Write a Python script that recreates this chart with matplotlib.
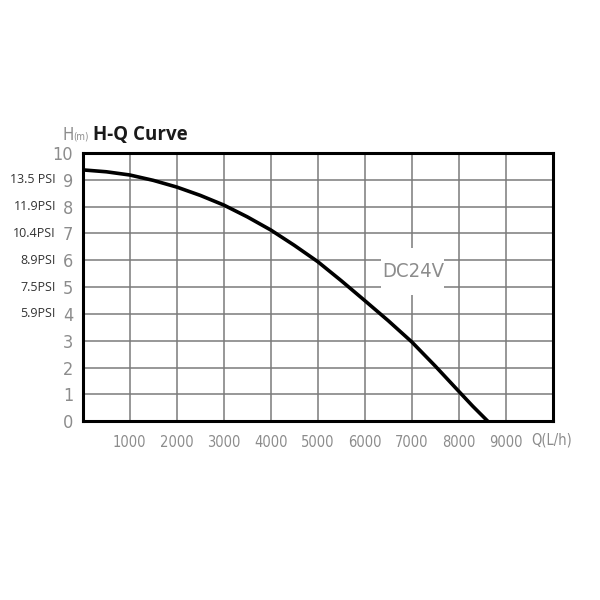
import matplotlib
matplotlib.use("Agg")
import matplotlib.pyplot as plt
from matplotlib.patches import Rectangle

# H-Q curve
flow = [0, 500, 1000, 1500, 2000, 2500, 3000, 3500, 4000, 4500, 5000,
        5500, 6000, 6500, 7000, 7500, 8000, 8300, 8620]
head = [9.37, 9.3, 9.18, 8.98, 8.73, 8.42, 8.06, 7.62, 7.13, 6.56, 5.95,
        5.24, 4.5, 3.75, 2.96, 2.06, 1.12, 0.56, 0.0]

x_ticks = [1000, 2000, 3000, 4000, 5000, 6000, 7000, 8000, 9000]
y_ticks = list(range(0, 11))
psi_levels = [9, 8, 7, 6, 5, 4]
psi_labels = ["13.5 PSI", "11.9PSI", "10.4PSI", "8.9PSI", "7.5PSI", "5.9PSI"]

grey = "#8c8c8c"
thin = dict(family="DejaVu Sans", fontstretch="condensed", color=grey)

fig = plt.figure(figsize=(6, 6), dpi=100)
ax = fig.add_axes([0.138, 0.298, 0.783, 0.447])

ax.plot(flow, head, color="black", lw=2.6, zorder=4)

ax.set_xlim(0, 10000)
ax.set_ylim(0, 10)
ax.set_xticks(range(0, 10001, 1000))
ax.set_yticks(y_ticks)
ax.grid(True, color="#7a7a7a", lw=1.1, zorder=1)
ax.set_axisbelow(True)
ax.tick_params(length=0, labelcolor=grey)
ax.tick_params(axis="y", pad=7)
ax.tick_params(axis="x", pad=10)
ax.set_xticklabels([""] + [str(v) for v in x_ticks] + [""])
ax.set_yticklabels([str(v) for v in y_ticks])
for lab in ax.get_xticklabels():
    lab.set_fontstretch("condensed")
    lab.set_fontsize(10.5)
for lab in ax.get_yticklabels():
    lab.set_fontstretch("condensed")
    lab.set_fontsize(13)
for s in ax.spines.values():
    s.set_linewidth(2.2)
    s.set_color("black")

ax.text(0.998, -0.07, "Q(L/h)", transform=ax.transAxes, ha="center",
        va="center", fontsize=10.5, **thin)

# white patch that breaks the grid behind the DC24V label
ax.add_patch(Rectangle((0.634, 0.471), 0.134, 0.176, transform=ax.transAxes,
                       facecolor="white", edgecolor="none", zorder=2))
ax.text(0.704, 0.559, "DC24V", transform=ax.transAxes, ha="center",
        va="center", fontsize=14.5, zorder=3, **thin)

for lvl, lab in zip(psi_levels, psi_labels):
    ax.text(-0.057, lvl, lab, transform=ax.get_yaxis_transform(),
            ha="right", va="center", fontsize=9, color="#333333",
            family="Open Sans")

fig.text(0.104, 0.775, "H", fontsize=12, ha="left", va="center", **thin)
fig.text(0.122, 0.773, "(m)", fontsize=7, ha="left", va="center", **thin)
fig.text(0.155, 0.775, "H-Q Curve", fontsize=13.5, fontweight="bold",
         color="#1a1a1a", ha="left", va="center", family="Open Sans")

fig.savefig("out.png", dpi=100, facecolor="white")
